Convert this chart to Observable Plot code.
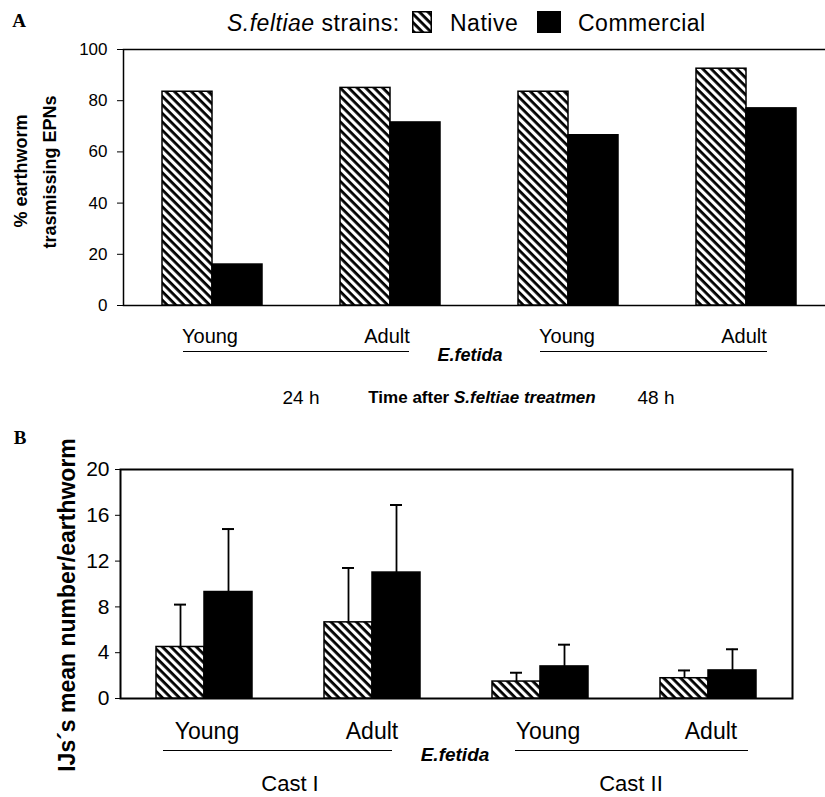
<!DOCTYPE html>
<html>
<head>
<meta charset="utf-8">
<script src="https://cdn.jsdelivr.net/npm/d3@7"></script>
<script src="https://cdn.jsdelivr.net/npm/@observablehq/plot@0.6"></script>
<style>
  html, body { margin: 0; padding: 0; background: #fff; overflow: hidden; }
  #root { position: relative; width: 825px; height: 797px; overflow: hidden; background: #fff; color: #000;
          font-family: "Liberation Sans", Arial, sans-serif; }
  .abs { position: absolute; white-space: nowrap; line-height: 1; }
  .layer { position: absolute; left: 0; }
</style>
</head>
<body>
<svg width="0" height="0" style="position:absolute">
  <defs>
    <pattern id="hatch" patternUnits="userSpaceOnUse" width="6" height="6" patternTransform="rotate(45)">
      <rect width="6" height="6" fill="#fff"></rect>
      <rect width="6" height="2.8" fill="#000"></rect>
    </pattern>
  </defs>
</svg>
<div id="root"></div>
<script>
// ---------- data ----------
const strains = ["Native", "Commercial"];
const ages = ["Young", "Adult"];
const timesA = ["24 h", "48 h"];
const castsB = ["Cast I", "Cast II"];

// Panel A: % earthworm transmitting EPNs
const nativeA = [83.5, 85, 83.5, 92.5];
const commercialA = [16, 71.5, 66.5, 77];
const ticksA = [0, 20, 40, 60, 80, 100];

// Panel B: IJs mean number / earthworm (mean and SD)
const nativeB = [4.5, 6.65, 1.48, 1.77];
const nativeSdB = [3.7, 4.75, 0.77, 0.68];
const commercialB = [9.3, 11.0, 2.8, 2.45];
const commercialSdB = [5.5, 5.9, 1.9, 1.85];
const ticksB = [0, 4, 8, 12, 16, 20];

// ---------- tables ----------
const groupsA = timesA.flatMap(t => ages.map(a => `${t} ${a}`));
const groupsB = castsB.flatMap(c => ages.map(a => `${c} ${a}`));
const rowsA = groupsA.flatMap((g, i) => [
  {group: g, strain: "Native", value: nativeA[i]},
  {group: g, strain: "Commercial", value: commercialA[i]}
]);
const rowsB = groupsB.flatMap((g, i) => [
  {group: g, strain: "Native", value: nativeB[i], sd: nativeSdB[i]},
  {group: g, strain: "Commercial", value: commercialB[i], sd: commercialSdB[i]}
]);

const root = document.getElementById("root");
const FONT = '"Liberation Sans", Arial, sans-serif';
const SERIF = '"Liberation Serif", "Times New Roman", serif';

function place(node, top) {
  node.classList.add("layer");
  node.style.top = top + "px";
  root.appendChild(node);
}
function addText(html, x, y, o = {}) {
  const d = document.createElement("div");
  d.className = "abs";
  d.innerHTML = html;
  Object.assign(d.style, {
    left: x + "px", top: y + "px",
    fontSize: (o.size || 20) + "px",
    fontWeight: o.bold ? "bold" : "normal",
    fontStyle: o.italic ? "italic" : "normal",
    fontFamily: o.family || FONT,
    letterSpacing: o.ls ? o.ls + "px" : "normal",
    transform: o.transform || "translate(-50%,-50%)"
  });
  root.appendChild(d);
  return d;
}
function addLine(x1, x2, y, w = 1.5) {
  const d = document.createElement("div");
  Object.assign(d.style, {position: "absolute", left: x1 + "px", top: (y - w / 2) + "px",
    width: (x2 - x1) + "px", height: "0px", borderTop: w + "px solid #000"});
  root.appendChild(d);
}
function swatch(x, y, w, h, fill) {
  const ns = "http://www.w3.org/2000/svg";
  const s = document.createElementNS(ns, "svg");
  s.setAttribute("width", w); s.setAttribute("height", h);
  s.style.position = "absolute"; s.style.left = x + "px"; s.style.top = y + "px";
  const r = document.createElementNS(ns, "rect");
  r.setAttribute("x", 0.75); r.setAttribute("y", 0.75);
  r.setAttribute("width", w - 1.5); r.setAttribute("height", h - 1.5);
  r.setAttribute("fill", fill); r.setAttribute("stroke", "#000"); r.setAttribute("stroke-width", 1.5);
  s.appendChild(r);
  root.appendChild(s);
}

// ---------- Panel A ----------
const dimA = {width: 825, height: 320, marginTop: 49, marginBottom: 15, marginLeft: 123, marginRight: -10};
place(Plot.plot({
  ...dimA,
  style: {background: "transparent", fontFamily: FONT, fontSize: "17px", color: "#000"},
  y: {domain: [0, 100], axis: null},
  marks: [
    Plot.frame({stroke: "#000", strokeWidth: 1.5}),
    Plot.axisY({ticks: ticksA, tickSize: 6, tickPadding: 10, fontSize: 17, label: null, stroke: "#000"})
  ]
}), 0);
place(Plot.plot({
  ...dimA,
  style: {background: "transparent", fontFamily: FONT},
  fx: {domain: groupsA, padding: 0, axis: null},
  x: {domain: strains, paddingInner: 0, paddingOuter: 0.762, axis: null},
  y: {domain: [0, 100], axis: null},
  marks: [
    Plot.barY(rowsA.filter(d => d.strain === "Native"),
      {fx: "group", x: "strain", y: "value", fill: "url(#hatch)", stroke: "#000", strokeWidth: 1.5}),
    Plot.barY(rowsA.filter(d => d.strain === "Commercial"),
      {fx: "group", x: "strain", y: "value", fill: "#000", stroke: "#000", strokeWidth: 1.5})
  ]
}), 0);

// ---------- Panel B ----------
const topB = 440;
const dimB = {width: 825, height: 270, marginTop: 29, marginBottom: 12, marginLeft: 120, marginRight: 33};
place(Plot.plot({
  ...dimB,
  style: {background: "transparent", fontFamily: FONT, fontSize: "21px", color: "#000"},
  y: {domain: [0, 20], axis: null},
  marks: [
    Plot.frame({stroke: "#000", strokeWidth: 2}),
    Plot.axisY({ticks: ticksB, tickSize: 5, tickPadding: 6, fontSize: 21, label: null, stroke: "#000"})
  ]
}), topB);
place(Plot.plot({
  ...dimB,
  style: {background: "transparent", fontFamily: FONT},
  fx: {domain: groupsB, padding: 0, axis: null},
  x: {domain: strains, paddingInner: 0, paddingOuter: 0.737, axis: null},
  y: {domain: [0, 20], axis: null},
  marks: [
    Plot.barY(rowsB.filter(d => d.strain === "Native"),
      {fx: "group", x: "strain", y: "value", fill: "url(#hatch)", stroke: "#000", strokeWidth: 1.5}),
    Plot.barY(rowsB.filter(d => d.strain === "Commercial"),
      {fx: "group", x: "strain", y: "value", fill: "#000", stroke: "#000", strokeWidth: 1.5}),
    Plot.ruleX(rowsB, {fx: "group", x: "strain", y1: "value", y2: d => d.value + d.sd, stroke: "#000", strokeWidth: 1.8}),
    Plot.tickY(rowsB, {fx: "group", x: "strain", y: d => d.value + d.sd, stroke: "#000", strokeWidth: 2, insetLeft: 18, insetRight: 18})
  ]
}), topB);

// ---------- Text: panel A ----------
addText("A", 19, 20, {size: 19, bold: true, family: SERIF});
addText("<i>S.feltiae</i> strains:", 227, 23, {size: 23, ls: 0.5, transform: "translate(0,-50%)"});
swatch(412, 11, 20, 22, "url(#hatch)");
addText(strains[0], 450, 23, {size: 23, ls: 0.5, transform: "translate(0,-50%)"});
swatch(537, 11, 24, 22, "#000");
addText(strains[1], 578, 23, {size: 23, ls: 0.5, transform: "translate(0,-50%)"});

addText("% earthworm", 21, 171, {size: 18, bold: true, transform: "translate(-50%,-50%) rotate(-90deg)"});
addText("trasmissing EPNs", 50, 172, {size: 18, bold: true, transform: "translate(-50%,-50%) rotate(-90deg)"});

const labelXA = [210, 387, 567, 744];
groupsA.forEach((g, i) => addText(ages[i % 2], labelXA[i], 336, {size: 20}));
addLine(183, 409, 352);
addLine(540, 767, 352);
addText("<i>E.fetida</i>", 470, 355, {size: 18, bold: true});
addText(timesA[0], 301, 397, {size: 19});
addText("Time after <i>S.feltiae treatmen</i>", 482, 397, {size: 17, bold: true});
addText(timesA[1], 656, 397, {size: 19});

// ---------- Text: panel B ----------
addText("B", 20, 437, {size: 19, bold: true, family: SERIF});
addText("IJs´s mean number/earthworm", 67, 605, {size: 23, bold: true, transform: "translate(-50%,-50%) rotate(-90deg)"});
const labelXB = [207, 372, 548, 711];
groupsB.forEach((g, i) => addText(ages[i % 2], labelXB[i], 731, {size: 23}));
addLine(163, 392, 751);
addLine(515, 748, 751);
addText("<i>E.fetida</i>", 455, 754, {size: 19, bold: true});
addText(castsB[0], 290, 784, {size: 22});
addText(castsB[1], 631, 784, {size: 22});
</script>
</body>
</html>
